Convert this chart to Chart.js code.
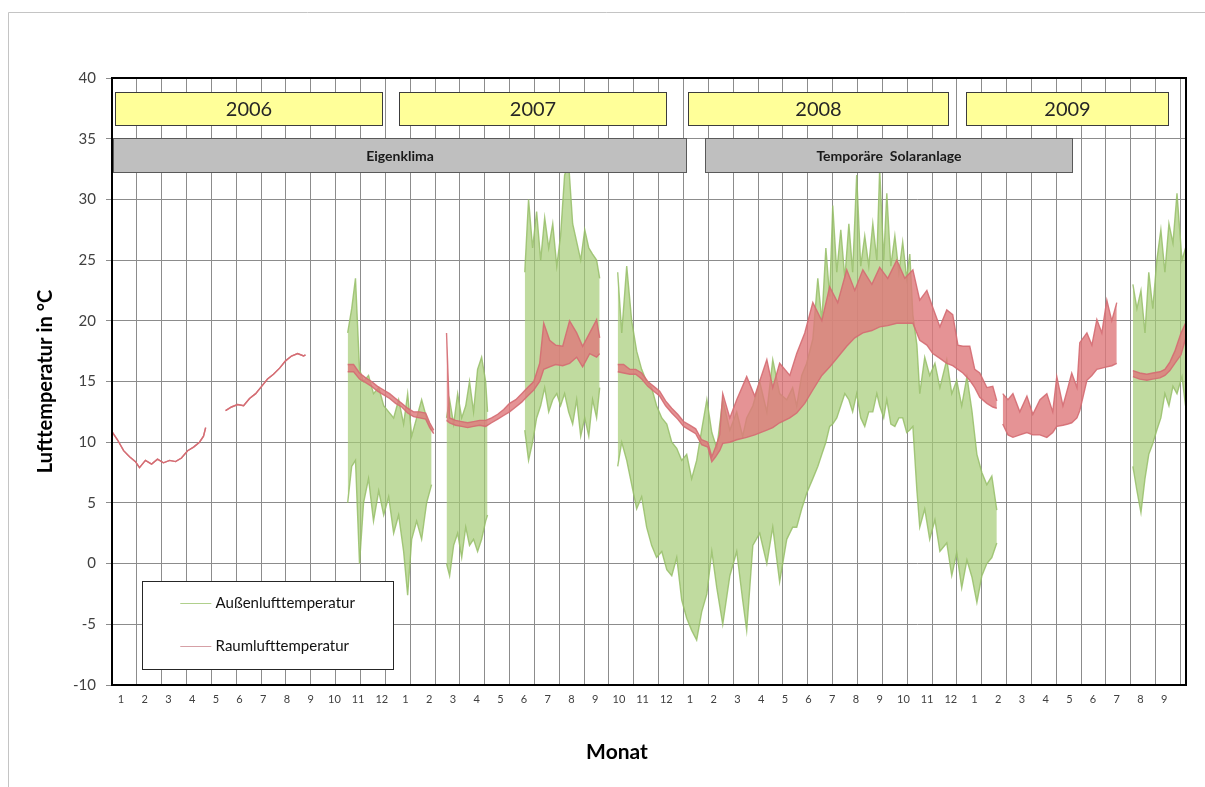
<!DOCTYPE html>
<html lang="de">
<head>
<meta charset="utf-8">
<title>Lufttemperatur</title>
<script src="https://cdn.jsdelivr.net/npm/chart.js@4.4.1/dist/chart.umd.min.js"></script>
<style>
  html, body { margin: 0; padding: 0; background: #fff; }
  #wrap { width: 1205px; height: 787px; }
</style>
</head>
<body>
<div id="wrap"><canvas id="temperatur" width="1205" height="787"></canvas></div>
<script>
// Monatsbeschriftung Jan 2006 .. Sep 2009
const monatLabels = ['1','2','3','4','5','6','7','8','9','10','11','12',
  '1','2','3','4','5','6','7','8','9','10','11','12',
  '1','2','3','4','5','6','7','8','9','10','11','12',
  '1','2','3','4','5','6','7','8','9'];

// Zeit in Monaten (0 = Jan 2006), null = Messluecke
const raumZeit = [
  -0.36,-0.15,0.11,0.36,0.61,0.78,1.03,1.29,1.54,1.79,2.05,2.30,2.55,2.81,3.06,3.31,3.48,3.57, null,
  4.41,4.66,4.92,5.17,5.42,5.68,5.93,6.18,6.43,6.69,6.94,7.19,7.45,7.70,7.78, null,
  9.56,9.81,10.06,10.32,10.57,10.82,11.08,11.33,11.58,11.84,12.09,12.34,12.59,12.85,13.02,13.19, null,
  13.73,13.86,14.11,14.37,14.62,14.87,15.13,15.38,15.63,15.89,16.14,16.39,16.65,16.90,17.15,17.41,17.66,17.83,18.08,18.33,18.63,18.92,19.22,19.47,19.77,20.06,20.19, null,
  20.95,21.20,21.46,21.71,21.96,22.22,22.47,22.72,22.97,23.23,23.48,23.73,23.99,24.24,24.49,24.75,24.92,25.08,25.25,25.38,25.68,25.97,26.39,26.73,27.24,27.49,27.78,28.21,28.50,28.84,29.18,29.56,29.89,30.23,30.61,30.95,31.29,31.67,32.00,32.34,32.72,33.06,33.40,33.69,33.99,34.24,34.54,34.83,35.08,35.30,35.51,35.80,36.01,36.22,36.52,36.77,36.94, null,
  37.19,37.41,37.62,37.91,38.21,38.46,38.76,39.05,39.30,39.47,39.73,39.94,40.10,40.32,40.44,40.74,40.95,41.16,41.37,41.58,41.79,42.00, null,
  42.68,42.97,43.27,43.52,43.82,44.03,44.24,44.45,44.71,44.90
];
const raumMin = [
  10.8,10.2,9.3,8.8,8.4,7.9,8.5,8.2,8.6,8.3,8.5,8.4,8.7,9.3,9.6,10.0,10.5,11.2, null,
  12.6,12.9,13.1,13.0,13.6,14.0,14.6,15.2,15.6,16.1,16.7,17.1,17.3,17.1,17.2, null,
  15.8,15.8,15.2,14.9,14.6,14.2,13.9,13.6,13.2,12.9,12.4,12.1,12.0,11.9,11.2,10.7, null,
  11.8,11.6,11.4,11.3,11.2,11.3,11.4,11.3,11.6,11.9,12.2,12.5,12.9,13.3,13.8,14.3,15.0,16.0,16.2,16.4,16.3,16.5,17.0,16.2,17.3,17.0,17.3, null,
  15.8,15.7,15.6,15.6,15.2,14.6,14.2,13.8,13.0,12.4,11.9,11.3,11.0,10.7,9.8,9.6,8.4,8.8,9.3,9.9,10.0,10.2,10.4,10.6,11.0,11.2,11.6,12.0,12.4,13.2,14.3,15.5,16.2,17.0,17.9,18.6,19.0,19.2,19.5,19.6,19.8,19.8,19.8,18.4,18.0,17.3,16.9,16.5,16.3,16.0,15.7,15.1,14.5,13.7,13.2,12.9,12.8, null,
  11.5,10.6,10.4,10.6,10.8,10.6,10.6,10.4,10.8,11.3,11.4,11.5,11.6,12.0,12.6,15.1,15.5,16.0,16.1,16.2,16.3,16.5, null,
  15.4,15.2,15.1,15.2,15.3,15.5,15.9,16.5,17.2,18.5
];
const raumMax = [
  10.8,10.2,9.3,8.8,8.4,7.9,8.5,8.2,8.6,8.3,8.5,8.4,8.7,9.3,9.6,10.0,10.5,11.2, null,
  12.6,12.9,13.1,13.0,13.6,14.0,14.6,15.2,15.6,16.1,16.7,17.1,17.3,17.1,17.2, null,
  16.4,16.4,15.7,15.3,15.0,14.6,14.3,14.0,13.6,13.2,12.8,12.5,12.5,12.4,11.6,11.0, null,
  19.0,12.0,11.8,11.7,11.6,11.7,11.8,11.8,12.0,12.3,12.7,13.2,13.5,14.0,14.5,15.0,16.5,19.8,18.4,18.0,17.9,20.0,19.0,17.9,19.0,20.1,18.6, null,
  16.4,16.4,16.0,16.0,15.7,15.0,14.6,14.2,13.4,12.8,12.3,11.7,11.4,11.1,10.2,10.0,8.8,9.6,10.6,14.0,12.0,13.5,15.4,13.8,16.8,14.5,16.5,15.5,17.3,19.0,21.5,20.0,22.8,21.5,24.2,22.5,24.2,23.0,24.4,23.5,25.0,23.5,24.2,21.7,22.5,21.1,19.5,20.9,20.5,18.0,17.9,17.9,16.0,15.7,14.5,14.6,13.4, null,
  14.0,13.5,14.0,12.5,13.8,12.3,13.5,14.0,12.5,15.4,13.0,14.5,15.7,14.5,18.2,19.0,18.0,20.1,19.0,21.7,20.0,21.5, null,
  15.9,15.7,15.6,15.7,15.8,16.0,16.6,17.5,19.0,19.8
];

const aussenZeit = [
  9.56,9.73,9.89,10.06,10.23,10.44,10.65,10.87,11.08,11.29,11.50,11.71,11.92,12.09,12.26,12.47,12.68,12.89,13.10, null,
  13.73,13.86,14.03,14.20,14.37,14.54,14.70,14.87,15.04,15.21,15.38,15.46, null,
  17.03,17.19,17.36,17.53,17.70,17.87,18.04,18.21,18.38,18.54,18.71,18.88,19.05,19.22,19.39,19.56,19.73,19.89,20.06,20.19, null,
  20.95,21.12,21.33,21.54,21.75,21.96,22.17,22.38,22.59,22.81,23.02,23.23,23.44,23.65,23.86,24.07,24.28,24.49,24.71,24.92,
  25.13,25.38,25.68,25.97,26.22,26.39,26.65,26.94,27.24,27.49,27.78,28.08,28.33,28.50,28.71,28.92,29.18,29.39,29.56,29.73,
  29.89,30.02,30.19,30.36,30.53,30.70,30.86,31.03,31.20,31.37,31.54,31.71,31.88,32.00,32.17,32.30,32.47,32.64,32.81,32.97,
  33.14,33.27,33.40,33.57,33.69,33.90,34.11,34.33,34.54,34.83,35.04,35.25,35.46,35.68,35.89,36.10,36.31,36.52,36.73,36.94, null,
  42.68,42.85,43.02,43.19,43.35,43.52,43.69,43.86,44.03,44.20,44.37,44.54,44.75,44.90
];
const aussenMin = [
  5.0,8.0,8.5,0.0,5.0,7.0,3.5,6.0,4.0,5.5,2.5,4.0,1.0,-2.6,2.0,3.5,2.0,5.0,6.5, null,
  0.0,-1.0,1.5,2.5,0.5,3.0,1.5,2.0,1.0,2.0,3.5,4.0, null,
  11.0,8.5,10.0,12.0,13.0,14.5,12.5,13.5,14.0,13.0,14.0,12.5,11.5,13.5,10.5,12.0,10.5,13.5,12.0,14.5, null,
  8.0,10.0,8.5,6.5,4.5,5.5,3.0,1.5,0.5,1.0,-0.5,-1.0,0.5,-3.0,-4.5,-5.5,-6.3,-4.0,-2.5,1.0,
  -2.0,-5.0,-1.0,1.0,-3.0,-5.5,1.5,2.5,0.0,3.0,-1.5,2.0,3.0,3.0,4.5,5.8,7.0,8.0,9.0,10.0,
  11.3,11.5,12.0,13.0,14.0,13.5,12.5,14.0,12.0,11.3,12.5,12.5,14.0,13.0,12.0,13.5,11.5,11.3,12.0,12.0,
  10.8,11.0,11.3,6.0,3.0,4.5,2.0,3.6,1.0,1.7,-1.0,0.9,-2.0,0.3,-1.1,-3.2,-1.0,0.0,0.5,1.7, null,
  8.0,6.0,4.2,7.0,9.0,9.9,11.0,12.0,14.0,13.0,14.6,14.0,15.4,13.0
];
const aussenMax = [
  19.0,21.0,23.5,16.0,15.0,15.5,14.0,14.5,13.0,12.5,12.0,13.5,11.5,14.0,10.5,12.0,13.5,12.0,11.0, null,
  12.0,13.5,11.5,14.0,12.0,13.0,15.0,12.5,16.0,17.0,15.0,12.5, null,
  24.0,30.0,26.0,29.0,25.0,28.5,26.0,28.0,24.5,27.0,32.0,33.0,28.0,26.5,25.0,27.5,26.0,25.5,25.0,23.5, null,
  24.0,19.0,24.5,20.0,17.5,16.0,15.0,14.5,13.0,12.0,11.5,10.0,9.5,8.5,9.0,7.0,8.5,11.0,13.5,10.8,
  9.5,13.5,11.0,12.5,10.5,12.0,13.0,15.0,12.5,16.8,14.0,13.5,14.5,13.0,15.5,16.5,18.5,23.5,20.0,26.0,
  22.0,29.5,24.0,27.5,23.5,28.0,24.0,32.0,24.5,27.0,24.5,28.0,25.0,32.5,25.0,30.5,24.5,27.0,24.0,26.5,
  23.5,25.5,20.5,18.0,14.0,17.0,15.5,16.5,14.5,16.8,14.0,15.1,13.0,15.4,12.6,9.0,7.5,6.5,7.2,4.4, null,
  23.0,21.0,22.5,19.0,24.0,21.0,25.0,27.5,24.0,28.0,26.4,30.5,25.0,26.0
];

// Beschriftungskaesten (Zeit in Monaten)
const jahre = ['2006', '2007', '2008', '2009'];
const jahrVon = [-0.27, 11.71, 23.90, 35.63];
const jahrBis = [10.99, 22.97, 34.87, 44.15];
const phasen = ['Eigenklima', 'Temporäre  Solaranlage'];
const phaseVon = [-0.32, 24.62];
const phaseBis = [23.82, 40.11];

const FONT = 'Lato, "Open Sans", sans-serif';

function segmente(zeit, min, max) {
  const out = [];
  let cur = null;
  zeit.forEach((t, i) => {
    if (t === null) { cur = null; return; }
    if (!cur) { cur = {lo: [], hi: []}; out.push(cur); }
    cur.lo.push({x: t, y: min[i]});
    cur.hi.push({x: t, y: max[i]});
  });
  return out;
}

function band(label, segs, fillColor, lineColor, order) {
  const ds = [];
  segs.forEach(s => {
    ds.push({label, data: s.hi, borderColor: lineColor, borderWidth: 1.4,
      pointRadius: 0, fill: false, order});
    ds.push({label, data: s.lo, borderColor: lineColor, borderWidth: 1.4,
      pointRadius: 0, fill: '-1', backgroundColor: fillColor, order});
  });
  return ds;
}

const datasets = [
  ...band('Außenlufttemperatur', segmente(aussenZeit, aussenMin, aussenMax),
    'rgba(165,204,118,0.7)', 'rgba(150,190,105,0.85)', 2),
  ...band('Raumlufttemperatur', segmente(raumZeit, raumMin, raumMax),
    'rgba(222,120,122,0.8)', 'rgba(212,108,114,0.9)', 1)
];

const kaesten = {
  id: 'kaesten',
  beforeDraw(chart) {
    const ctx = chart.ctx;
    ctx.save();
    ctx.fillStyle = '#fff';
    ctx.fillRect(0, 0, chart.width, chart.height);
    ctx.strokeStyle = '#c4c4c4';
    ctx.lineWidth = 1;
    ctx.beginPath();
    ctx.moveTo(8.5, chart.height);
    ctx.lineTo(8.5, 12.5);
    ctx.lineTo(chart.width, 12.5);
    ctx.stroke();
    ctx.restore();
  },
  afterDatasetsDraw(chart) {
    const {ctx, chartArea: a, scales: {x, y}} = chart;
    ctx.save();
    ctx.strokeStyle = '#000';
    ctx.lineWidth = 2;
    ctx.strokeRect(a.left, a.top, a.right - a.left, a.bottom - a.top);

    ctx.textAlign = 'center';
    ctx.textBaseline = 'middle';
    const kasten = (von, bis, oben, unten, fill, rand, text, font, farbe) => {
      const l = Math.round(x.getPixelForValue(von)) + 0.5;
      const r = Math.round(x.getPixelForValue(bis)) + 0.5;
      const t = Math.round(y.getPixelForValue(oben)) + 0.5;
      const b = Math.round(y.getPixelForValue(unten)) + 0.5;
      ctx.fillStyle = fill;
      ctx.fillRect(l, t, r - l, b - t);
      ctx.strokeStyle = rand;
      ctx.lineWidth = 1;
      ctx.strokeRect(l, t, r - l, b - t);
      ctx.fillStyle = farbe;
      ctx.font = font;
      ctx.fillText(text, (l + r) / 2, (t + b) / 2 + 1);
    };
    jahre.forEach((j, i) => kasten(jahrVon[i], jahrBis[i], 38.85, 36.13,
      '#ffff99', '#3c3c3c', j, '20px ' + FONT, '#262626'));
    phasen.forEach((p, i) => kasten(phaseVon[i], phaseBis[i], 35.06, 32.26,
      '#bfbfbf', '#595959', p, 'bold 14px ' + FONT, '#1a1a1a'));

    // Legende
    const l = Math.round(x.getPixelForValue(0.88)) + 0.5;
    const r = Math.round(x.getPixelForValue(11.47)) + 0.5;
    const t = Math.round(y.getPixelForValue(-1.41)) + 0.5;
    const b = Math.round(y.getPixelForValue(-8.68)) + 0.5;
    ctx.fillStyle = '#fff';
    ctx.fillRect(l, t, r - l, b - t);
    ctx.strokeStyle = '#262626';
    ctx.lineWidth = 1;
    ctx.strokeRect(l, t, r - l, b - t);
    const eintraege = [
      ['Außenlufttemperatur', 'rgb(176,208,140)', -3.23],
      ['Raumlufttemperatur', 'rgb(214,160,166)', -6.79]
    ];
    ctx.textAlign = 'left';
    ctx.font = '15px ' + FONT;
    eintraege.forEach(([text, farbe, wert]) => {
      const py = Math.round(y.getPixelForValue(wert)) + 0.5;
      ctx.strokeStyle = farbe;
      ctx.beginPath();
      ctx.moveTo(x.getPixelForValue(2.50), py);
      ctx.lineTo(x.getPixelForValue(3.81), py);
      ctx.stroke();
      ctx.fillStyle = '#111';
      ctx.fillText(text, x.getPixelForValue(3.99), py);
    });

    // Achsentitel unten
    ctx.textAlign = 'center';
    ctx.fillStyle = '#000';
    ctx.font = 'bold 21px ' + FONT;
    ctx.fillText('Monat', 617, 752);
    ctx.restore();
  }
};

const temperatur = new Chart(document.getElementById('temperatur'), {
  type: 'line',
  data: {datasets},
  options: {
    responsive: false,
    animation: false,
    events: [],
    layout: {padding: {top: 78, right: 19, left: 0, bottom: 0}},
    elements: {line: {tension: 0}},
    plugins: {
      legend: {display: false},
      tooltip: {enabled: false}
    },
    scales: {
      x: {
        type: 'linear',
        min: -0.38,
        max: 44.92,
        afterFit: s => { s.height = 102; },
        afterBuildTicks: s => { s.ticks = monatLabels.map((_, i) => ({value: i})); },
        grid: {display: false, drawTicks: false},
        border: {display: false},
        ticks: {
          autoSkip: false,
          maxRotation: 0,
          padding: 8,
          color: '#404040',
          font: {family: FONT, size: 11},
          callback: (v, i) => monatLabels[i]
        }
      },
      xg: {
        type: 'linear',
        position: 'top',
        min: 0,
        max: 43.22,
        afterBuildTicks: s => { s.ticks = Array.from({length: 43}, (_, i) => ({value: i + 1})); },
        grid: {color: '#8c8c8c', drawTicks: false},
        border: {display: false},
        ticks: {display: false}
      },
      y: {
        min: -10,
        max: 40,
        afterFit: s => { s.width = 112; },
        grid: {color: '#8c8c8c', tickLength: 6, tickColor: '#8c8c8c'},
        border: {display: false},
        ticks: {
          stepSize: 5,
          padding: 10,
          color: '#404040',
          font: {family: FONT, size: 15}
        },
        title: {
          display: true,
          text: 'Lufttemperatur in °C',
          color: '#000',
          font: {family: FONT, size: 20, weight: 'bold'},
          padding: {top: 34, bottom: 0}
        }
      }
    }
  },
  plugins: [kaesten]
});
</script>
</body>
</html>
